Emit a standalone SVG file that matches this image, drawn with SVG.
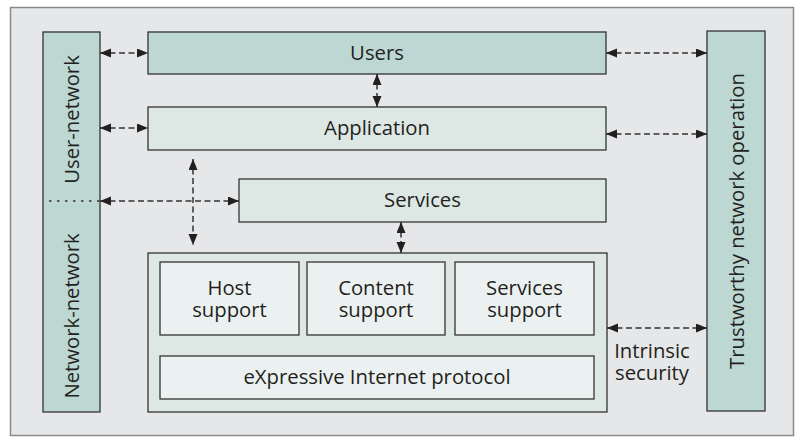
<svg xmlns="http://www.w3.org/2000/svg" width="797" height="437" viewBox="0 0 797 437">
<style>
text{font-family:"Open Sans","Noto Sans","Liberation Sans",sans-serif;font-size:20.3px;fill:#231f20;text-anchor:middle}
.dark{fill:#bdd7d2;stroke:#333;stroke-width:1.3}
.mid{fill:#dde7e4;stroke:#333;stroke-width:1.3}
.light{fill:#ebf1f0;stroke:#333;stroke-width:1.3}
.c{fill:none;stroke:#333;stroke-width:1.5;stroke-dasharray:6 3.5;marker-start:url(#ah);marker-end:url(#ah)}
.dot{fill:none;stroke:#333;stroke-width:1.5;stroke-dasharray:2.5 5.5}
</style>
<defs>
<marker id="ah" markerUnits="userSpaceOnUse" markerWidth="12" markerHeight="10" refX="11" refY="4.5" orient="auto-start-reverse">
<path d="M0,0 L11,4.5 L0,9 z" fill="#231f20"/>
</marker>
</defs>
<rect x="10.5" y="7.5" width="783" height="428" fill="#e6e7e8" stroke="#8a8a8a" stroke-width="1.5"/>
<g id="user-network-bar">
<rect class="dark" x="43" y="32" width="57" height="380"/>
<text transform="translate(79,119.5) rotate(-90)">User-network</text>
<text transform="translate(79,316) rotate(-90)">Network-network</text>
</g>
<g id="trustworthy">
<rect class="dark" x="707" y="31" width="58" height="380"/>
<text transform="translate(744,221) rotate(-90)">Trustworthy network operation</text>
</g>
<g id="users">
<rect class="dark" x="148" y="32" width="458" height="42"/>
<text x="377" y="60">Users</text>
</g>
<g id="application">
<rect class="mid" x="148" y="107" width="458" height="43"/>
<text x="377" y="135">Application</text>
</g>
<g id="services">
<rect class="mid" x="239" y="179" width="367" height="43"/>
<text x="422.5" y="207">Services</text>
</g>
<g id="network">
<rect class="mid" x="148" y="253" width="459" height="159"/>
</g>
<g id="host-support">
<rect class="light" x="160" y="262" width="139" height="73"/>
<text x="229.5" y="295">Host</text>
<text x="229.5" y="317">support</text>
</g>
<g id="content-support">
<rect class="light" x="307" y="262" width="138" height="73"/>
<text x="376" y="295">Content</text>
<text x="376" y="317">support</text>
</g>
<g id="services-support">
<rect class="light" x="455" y="262" width="139" height="73"/>
<text x="524.5" y="295">Services</text>
<text x="524.5" y="317">support</text>
</g>
<g id="xip">
<rect class="light" x="160" y="356" width="434" height="43"/>
<text x="377" y="384">eXpressive Internet protocol</text>
</g>
<g id="intrinsic-security">
<text x="652" y="358">Intrinsic</text>
<text x="652" y="380">security</text>
</g>
<g id="connectors">
<line class="c" x1="100" y1="53" x2="148" y2="53"/>
<line class="c" x1="100" y1="128" x2="148" y2="128"/>
<line class="c" x1="606" y1="53" x2="707" y2="53"/>
<line class="c" x1="606" y1="134" x2="707" y2="134"/>
<line class="c" x1="377" y1="74" x2="377" y2="107"/>
<line class="c" x1="401" y1="222" x2="401" y2="253"/>
<line class="c" x1="193" y1="159" x2="193" y2="245"/>
<line class="c" x1="100" y1="201" x2="239" y2="201"/>
<line class="dot" x1="49" y1="201" x2="100" y2="201"/>
<line class="c" x1="607" y1="328" x2="707" y2="328"/>
</g>
</svg>
